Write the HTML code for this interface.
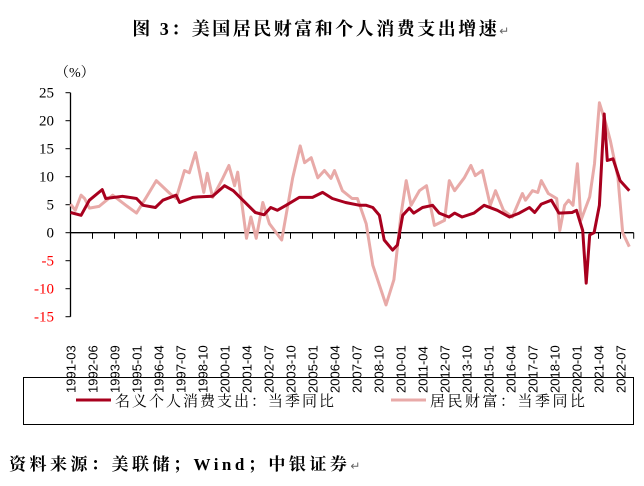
<!DOCTYPE html>
<html><head><meta charset="utf-8"><style>
body{margin:0;background:#fff;width:644px;height:486px;overflow:hidden;position:relative;font-family:"Liberation Serif","Noto Serif CJK SC",serif}
</style></head><body>
<div style="position:absolute;left:0;width:644px;top:15px;text-align:center;font-size:18px;font-weight:bold;letter-spacing:2.5px">图 3：美国居民财富和个人消费支出增速<span style="font-size:12px;font-weight:normal;color:#666">↵</span></div>
<svg id="c" width="644" height="486" style="position:absolute;left:0;top:0" font-family="Liberation Serif, Noto Serif CJK SC, serif"></svg>
<div style="position:absolute;left:9px;top:450px;font-size:17px;font-weight:bold;letter-spacing:3.5px">资料来源：美联储；Wind；中银证券<span style="font-size:12px;font-weight:normal;color:#666">↵</span></div>
<script>
const yTicks=[25,20,15,10,5,0,-5,-10,-15];
const xLabels=["1991-03","1992-06","1993-09","1995-01","1996-04","1997-07","1998-10","2000-01","2001-04","2002-07","2003-10","2005-01","2006-04","2007-07","2008-10","2010-01","2011-04","2012-07","2013-10","2015-01","2016-04","2017-07","2018-10","2020-01","2021-04","2022-07"];
const pceQ=[0,2.4,4.3,7.2,8,11.8,15,16.5,19.3,21,24,24.8,27.8,29,32.3,35,37,42,44,45.5,47,49,52,55,57.3,59.5,62.5,65.7,67.2,68.7,70.2,71.3,73.2,74.3,75.5,77,78,80,82.3,83.8,86,87.3,89,91.7,94,97,99.8,102,104.3,105.5,107,109.3,111,114,115,116.4,117.2,118,119,120.2,121.3,122,123.3,124.9,127];
const pceV=[3.6,3.1,5.8,7.7,6.1,6.5,6.1,4.9,4.5,5.8,6.7,5.4,6.3,6.4,6.5,8.4,7.5,3.6,3.2,4.5,4,4.9,6.3,6.3,7.2,6.1,5.4,4.9,4.9,4.5,3.1,-1.3,-3.1,-2.2,3.1,4.4,3.5,4.5,4.9,3.5,2.8,3.5,2.8,3.5,4.9,4,2.8,3.5,4.5,3.6,5.1,5.8,3.5,3.6,4,0.4,-9,-0.4,0,4.9,21.2,12.9,13.2,9.3,7.5];
const wQ=[0,1.1,2.4,3.2,4.3,6.5,9.6,12.6,15,17.2,19.5,22.6,24,25.9,27,28.4,30.3,31.1,32.3,34.6,36,37.3,38,40,41,42.2,43.7,45.2,48,50.5,52.2,53.2,54.7,56.2,57.7,59.2,60,61.8,64,65.2,67.2,68.7,71.7,73.5,75.1,76.3,77.4,79.3,80.9,82.7,85,86.1,87.3,89.5,91,92,93.6,95.4,96.6,98.4,100.4,102.7,103.4,105,106.2,107,108.6,110.5,111.2,112.3,113.2,114.2,115.2,116,118,119.1,120.2,121.7,122.7,124.4,125.5,127];
const wV=[5.1,4,6.7,6.1,4.4,4.7,6.7,4.9,3.5,6.3,9.3,7,6.1,11.1,10.7,14.3,7.2,10.6,6.3,9.7,12,8.4,10.8,-1,2.8,-1,5.4,1.6,-1.3,9.8,15.5,12.5,13.4,9.8,11.1,9.7,11.1,7.5,6.1,6.1,1.6,-5.8,-12.9,-8.4,3.1,9.3,4.9,7.5,8.4,1.3,2.2,9.3,7.5,9.8,12,10.2,11.1,4.9,7.5,4,2.8,7,5.8,7.5,7.2,9.3,7,6.1,0.4,4.9,5.8,4.9,12.3,2.2,6.4,12.3,23.2,19.4,16.4,9.9,0,-2.5];
const svg=document.getElementById('c'),NS='http://www.w3.org/2000/svg';
const X0=70.5,DX=4.4,Y0=232.7,K=5.6;
const xs=q=>X0+q*DX, ys=v=>Y0-v*K;
function mk(t,a,p){const e=document.createElementNS(NS,t);for(const k in a)e.setAttribute(k,a[k]);(p||svg).appendChild(e);return e;}
const ax=mk('line',{x1:X0,y1:ys(25),x2:X0,y2:ys(-15),stroke:'#000','stroke-width':1.3});


yTicks.forEach(v=>{
 mk('line',{x1:X0-5,y1:ys(v),x2:X0,y2:ys(v),stroke:'#000'});
 const t=mk('text',{x:54,y:ys(v)+5,'text-anchor':'end','font-size':15,fill:v<0?'#f00':'#000'});
 t.textContent=v;
 
 
});
const zl=mk('line',{x1:X0,y1:Y0,x2:X0+128*DX,y2:Y0,stroke:'#000','stroke-width':1.3});


xLabels.forEach((l,i)=>{
 const x=xs(i*5);
 mk('line',{x1:x,y1:Y0,x2:x,y2:Y0+6,stroke:'#000'});
 const t=mk('text',{x:0,y:0,'font-size':13,'font-family':'Liberation Sans, sans-serif',transform:`translate(${x+5},393) rotate(-90)`});
 t.textContent=l;
 
 
});
mk('line',{x1:xs(128),y1:Y0,x2:xs(128),y2:Y0+6,stroke:'#000'});
const pu=mk('text',{x:55,y:77,'font-size':14});pu.textContent='（%）';


function line(q,v,c,n){
 const p=mk('path',{d:q.map((qq,i)=>(i?'L':'M')+xs(qq).toFixed(1)+','+ys(v[i]).toFixed(1)).join(''),fill:'none',stroke:c,'stroke-width':3,'stroke-linejoin':'round'});
 
 
}
line(wQ,wV,'#e8aaa8','wealth-line');
line(pceQ,pceV,'#a8001e','consumption-line');
const box=mk('rect',{x:23.5,y:377.5,width:610,height:47,fill:'none',stroke:'#000','stroke-width':1});


mk('line',{x1:76,y1:400,x2:111,y2:400,stroke:'#a8001e','stroke-width':3});
const l1=mk('text',{x:115,y:406,'font-size':15,'letter-spacing':2});l1.textContent='名义个人消费支出：当季同比';


mk('line',{x1:391,y1:400,x2:426,y2:400,stroke:'#e8aaa8','stroke-width':3});
const l2=mk('text',{x:430,y:406,'font-size':15,'letter-spacing':2.5});l2.textContent='居民财富：当季同比';


</script>
</body></html>
